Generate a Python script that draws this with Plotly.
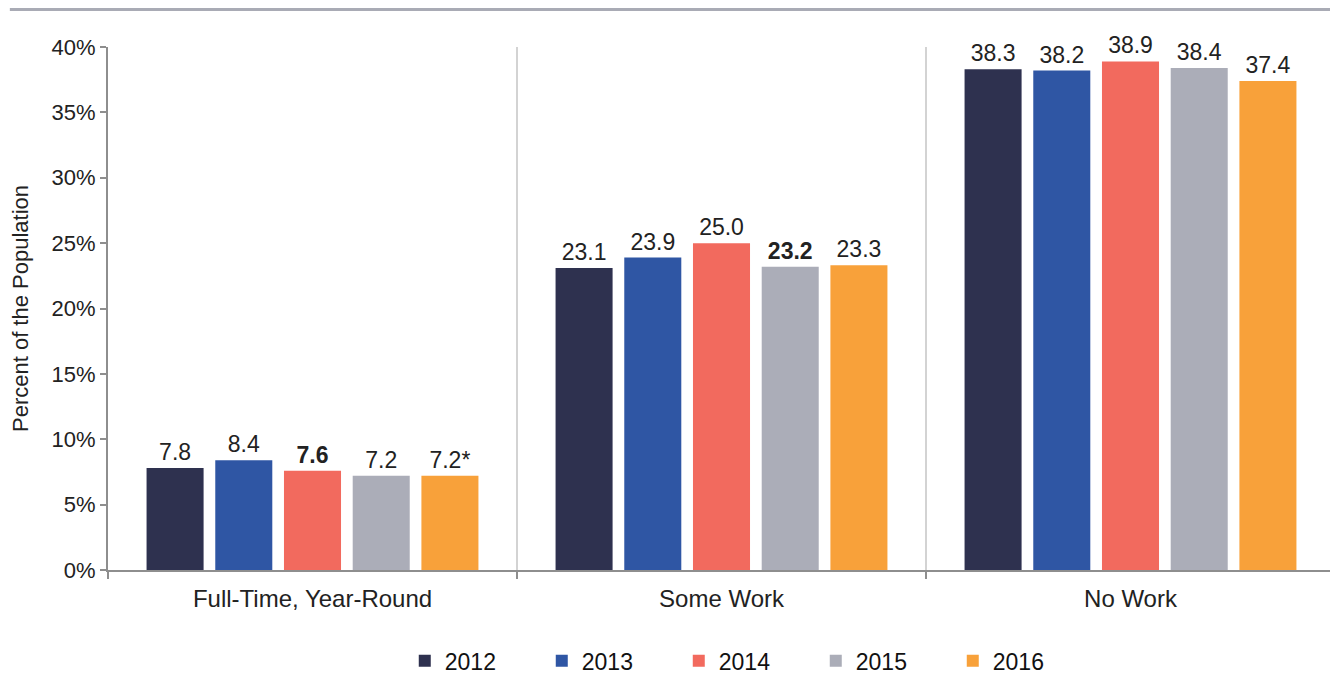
import plotly.graph_objects as go

categories = ["Full-Time, Year-Round", "Some Work", "No Work"]
years = ["2012", "2013", "2014", "2015", "2016"]
values = {
    "2012": [7.8, 23.1, 38.3],
    "2013": [8.4, 23.9, 38.2],
    "2014": [7.6, 25.0, 38.9],
    "2015": [7.2, 23.2, 38.4],
    "2016": [7.2, 23.3, 37.4],
}
labels = {
    "2012": ["7.8", "23.1", "38.3"],
    "2013": ["8.4", "23.9", "38.2"],
    "2014": ["<b>7.6</b>", "25.0", "38.9"],
    "2015": ["7.2", "<b>23.2</b>", "38.4"],
    "2016": ["7.2*", "23.3", "37.4"],
}
colors = {
    "2012": "#2E314F",
    "2013": "#2F56A4",
    "2014": "#F26A5E",
    "2015": "#ABADB8",
    "2016": "#F8A13A",
}
y_ticks = [0, 5, 10, 15, 20, 25, 30, 35, 40]
y_ticklabels = [f"{t}%" for t in y_ticks]

FONT = "Liberation Sans, Arial, Helvetica, sans-serif"

fig = go.Figure()
for yr in years:
    fig.add_trace(go.Bar(
        name=yr,
        x=categories,
        y=values[yr],
        text=labels[yr],
        textposition="outside",
        texttemplate="%{text}",
        textfont=dict(size=23, color="#222222", family=FONT),
        marker=dict(color=colors[yr], line=dict(width=0)),
        cliponaxis=False,
        constraintext="none",
        hoverinfo="skip",
    ))

# group separators
for xs in [0.5, 1.5]:
    fig.add_shape(type="line", xref="x", yref="y", x0=xs, x1=xs, y0=0, y1=40,
                  line=dict(color="#D3D3D3", width=2), layer="below")

# top rule
fig.add_shape(type="line", xref="paper", yref="paper", x0=-0.08, x1=1.02,
              y0=1.0717, y1=1.0717, line=dict(color="#A9ABB5", width=3))

fig.update_layout(
    width=1338, height=675,
    margin=dict(l=100, r=11, t=39, b=113),
    paper_bgcolor="white", plot_bgcolor="white",
    barmode="group", bargap=0.16, bargroupgap=0.17,
    font=dict(family=FONT, color="#222222"),
    showlegend=True,
    legend=dict(orientation="h", x=0.521, xanchor="center",
                yref="container", y=0.033, yanchor="middle",
                font=dict(size=23, color="#111111"), entrywidth=92,
                traceorder="normal"),
    xaxis=dict(
        type="category", range=[-0.5, 2.5], showline=True, linecolor="#8E8E8E",
        linewidth=2, ticks="outside", tickson="boundaries", ticklen=7,
        tickcolor="#8E8E8E", tickwidth=2, showgrid=False,
        ticklabelstandoff=6,
        tickfont=dict(size=24, color="#222222"),
    ),
    yaxis=dict(
        range=[0, 40], tickvals=y_ticks, ticktext=y_ticklabels,
        showline=True, linecolor="#8E8E8E", linewidth=2, ticks="outside",
        ticklen=6, tickcolor="#8E8E8E", tickwidth=2, showgrid=False,
        zeroline=False, tickfont=dict(size=22, color="#222222"),
        title=dict(text="Percent of the Population", font=dict(size=22, color="#222222"),
                   standoff=18),
    ),
)

fig.write_html("out.html")
